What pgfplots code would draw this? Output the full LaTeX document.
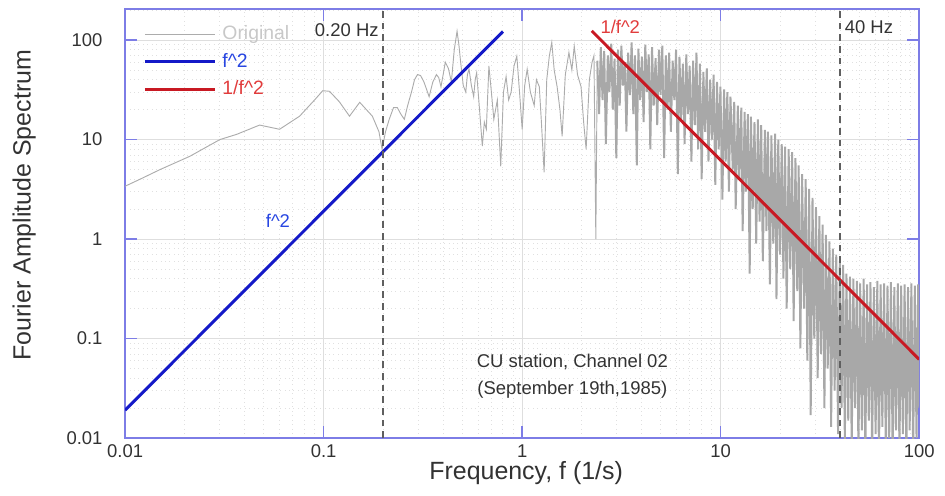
\documentclass[border=0pt]{standalone}
\usepackage{fontspec}
\setmainfont{Liberation Sans}
\usepackage{pgfplots}
\usepackage{pgfplotstable}
\pgfplotsset{compat=1.18}
\definecolor{frameblue}{RGB}{125,125,230}
\definecolor{origgray}{RGB}{172,172,172}
\definecolor{densegray}{RGB}{168,168,168}
\definecolor{legendgray}{RGB}{200,200,200}
\definecolor{fblue}{RGB}{20,25,200}
\definecolor{fred}{RGB}{200,25,35}
\definecolor{tblue}{RGB}{40,70,225}
\definecolor{tred}{RGB}{225,60,60}
\definecolor{ticktext}{RGB}{50,50,50}
\definecolor{dashgray}{RGB}{95,95,95}

\pgfplotstableread{
f A
0.0100 3.4
0.0119 4.0
0.0150 5.0
0.0212 6.8
0.0300 10.0
0.0365 11.3
0.0476 14.0
0.0600 12.7
0.0757 17.2
0.0900 25
0.0990 31
0.107 30.6
0.120 24
0.135 17.2
0.152 23.7
0.176 17.2
0.190 12
0.197 8.0
0.205 12
0.214 16
0.225 21
0.235 21
0.245 18
0.255 16
0.265 22
0.277 30
0.287 40
0.297 45
0.308 44
0.320 38
0.330 32
0.340 27
0.355 38
0.370 45
0.380 42
0.390 34
0.400 45
0.410 60
0.425 52
0.440 38
0.455 80
0.470 123
0.480 90
0.490 60
0.505 35
0.520 30
0.530 45
0.540 51
0.555 35
0.570 27
0.580 40
0.590 47
0.610 20
0.630 8.6
0.645 15
0.660 12.7
0.680 55
0.700 30
0.720 16
0.750 25
0.780 5.4
0.805 30
0.830 43
0.855 25
0.880 30
0.910 55
0.940 69
0.970 30
1.000 12.7
1.030 35
1.060 51
1.100 30
1.150 22
1.180 40
1.220 34
1.250 15
1.290 4.7
1.330 40
1.370 69
1.410 95
1.450 50
1.500 34
1.550 20
1.590 10.8
1.650 45
1.720 75
1.780 50
1.830 87
1.900 45
1.980 34
2.040 15
2.100 8
2.180 40
2.250 60
2.30 70
2.35 1.0
2.39 62
}\spectrumlow

\pgfplotstableread{
f A
2.39 62
2.44 18
2.49 85
2.54 25
2.59 78
2.64 9
2.70 70
2.75 30
2.81 92
2.86 20
2.92 65
2.98 6.5
3.04 80
3.10 22
3.16 88
3.22 35
3.29 60
3.35 12
3.42 75
3.49 28
3.56 95
3.63 18
3.70 70
3.78 5.5
3.85 82
3.93 25
4.01 68
4.09 15
4.17 90
4.25 30
4.34 72
4.42 8
4.51 85
4.60 22
4.70 66
4.79 14
4.89 80
4.98 28
5.08 88
5.19 6.5
5.29 70
5.40 20
5.50 75
5.61 12
5.73 62
5.84 25
5.96 80
6.08 4.5
6.20 68
6.32 16
6.45 58
6.58 9
6.71 72
6.84 18
6.98 55
7.12 6
7.26 62
7.41 14
7.55 75
7.70 8
7.86 58
8.02 4
8.18 48
8.34 12
8.51 52
8.68 6
8.85 40
9.03 10
9.21 45
9.39 3.5
9.58 38
9.77 8
9.97 34
10.2 2.5
10.4 32
10.6 6
10.8 30
11.0 3
11.2 27
11.5 5
11.7 24
11.9 2
12.2 22
12.4 4
12.7 21
12.9 1.2
13.2 19
13.4 3
13.7 18
14.0 0.45
14.2 17
14.5 2
14.8 15
15.1 0.9
15.4 16
15.7 1.5
16.0 14
16.3 0.6
16.7 12.5
17.0 1.2
17.3 12
17.7 0.35
18.0 11
18.4 0.9
18.8 11.5
19.1 0.25
19.5 10
19.9 0.7
20.3 9
20.7 0.4
21.1 8.5
21.5 0.2
22.0 8
22.4 0.5
22.9 7.5
23.3 0.15
23.8 6.5
24.3 0.3
24.7 5.5
25.2 0.08
25.7 4.5
26.3 0.2
26.8 4
27.3 0.06
27.9 3.2
28.4 0.017
29.0 2.6
29.6 0.1
30.2 2.1
30.8 0.04
31.4 1.7
32.0 0.07
32.6 1.4
33.3 0.02
33.9 1.1
34.6 0.05
35.3 0.95
36.0 0.013
36.7 0.8
37.5 0.03
38.2 0.7
39.0 0.011
39.8 0.6
40.6 0.02
41.4 0.55
42.2 0.009
43.0 0.45
43.9 0.015
44.8 0.42
45.7 0.008
46.6 0.4
47.5 0.02
48.5 0.38
49.4 0.007
50.4 0.36
51.4 0.012
52.5 0.4
53.5 0.006
54.6 0.35
55.7 0.015
56.8 0.37
57.9 0.007
59.1 0.33
60.3 0.011
61.5 0.38
62.7 0.006
63.9 0.35
65.2 0.013
66.5 0.36
67.9 0.007
69.2 0.34
70.6 0.01
72.0 0.37
73.5 0.006
74.9 0.33
76.4 0.012
78.0 0.36
79.5 0.007
81.1 0.34
82.7 0.011
84.4 0.35
86.1 0.006
87.8 0.33
89.5 0.012
91.3 0.36
93.2 0.007
95.0 0.34
96.9 0.01
98.8 0.35
100 0.02
}\spectrumhigh

\begin{document}
\begin{tikzpicture}
\begin{axis}[
  xmode=log, ymode=log,
  scale only axis, width=428.5bp, height=231.5bp,
  xmin=0.01, xmax=100, ymin=0.01, ymax=205,
  axis line style={frameblue, line width=0.8bp},
  major tick style={frameblue, line width=0.8bp},
  minor tick style={draw=none},
  major tick length=6.5bp, minor tick length=0pt,
  tick align=inside,
  xtick={0.01,0.1,1,10,100}, xticklabels={0.01,0.1,1,10,100},
  ytick={0.01,0.1,1,10,100}, yticklabels={0.01,0.1,1,10,100},
  minor xtick={0.02,0.03,0.04,0.05,0.06,0.07,0.08,0.09,0.2,0.3,0.4,0.5,0.6,0.7,0.8,0.9,2,3,4,5,6,7,8,9,20,30,40,50,60,70,80,90},
  minor ytick={0.02,0.03,0.04,0.05,0.06,0.07,0.08,0.09,0.2,0.3,0.4,0.5,0.6,0.7,0.8,0.9,2,3,4,5,6,7,8,9,20,30,40,50,60,70,80,90,200},
  grid=both,
  major grid style={draw=black!13, line width=0.5bp},
  minor grid style={draw=black!12, dotted, line width=0.5bp},
  tick label style={font=\fontsize{10}{12}\selectfont, text=ticktext},
  yticklabel style={xshift=-8.7bp},
  xlabel={Frequency, f (1/s)},
  ylabel={Fourier Amplitude Spectrum},
  label style={font=\fontsize{13.5}{16}\selectfont, text=ticktext},
  xlabel style={at={(axis description cs:0.505,-0.0956)}, anchor=base},
  ylabel style={at={(axis description cs:-0.127,0.543)}, anchor=center},
  legend style={at={(axis description cs:0.0227,0.963)}, anchor=north west,
    draw=none, fill=none, inner sep=0pt,
    font=\fontsize{10.5}{12}\selectfont,
    nodes={inner sep=0pt, text height=7.5bp, text depth=2bp},
    row sep=5.5bp,
    /tikz/every odd column/.append style={column sep=3.2bp}},
  legend image code/.code={\draw[#1] (0bp,0bp) -- (37.8bp,0bp);},
  legend cell align=left,
]
\addplot[origgray, line width=0.5bp] table[x=f, y=A] {\spectrumlow};
\addlegendentry{\textcolor{legendgray}{Original}}
\addplot[densegray, line width=1.05bp, forget plot] table[x=f, y=A] {\spectrumhigh};
\addplot[fblue, line width=1.6bp] coordinates {(0.01,0.0191) (0.80,122)};
\addlegendentry{\textcolor{tblue}{f\textasciicircum 2}}
\addplot[fred, line width=1.6bp] coordinates {(2.24,124) (100,0.0618)};
\addlegendentry{\textcolor{tred}{1/f\textasciicircum 2}}
\addplot[dashgray, line width=1.1bp, dash pattern=on 3.6bp off 2.7bp, forget plot] coordinates {(0.2,0.01) (0.2,205)};
\addplot[dashgray, line width=1.1bp, dash pattern=on 3.6bp off 2.7bp, forget plot] coordinates {(40,0.01) (40,205)};
\node[anchor=east, inner sep=0pt, font=\fontsize{10}{12}\selectfont, text=ticktext] at (axis cs:0.19,126) {0.20 Hz};
\node[anchor=west, inner sep=0pt, font=\fontsize{10}{12}\selectfont, text=ticktext] at (axis cs:42,136) {40 Hz};
\node[inner sep=0pt, font=\fontsize{10}{12}\selectfont, text=tblue] at (axis cs:0.0589,1.52) {f\textasciicircum 2};
\node[inner sep=0pt, font=\fontsize{10}{12}\selectfont, text=tred] at (axis cs:3.12,136) {1/f\textasciicircum 2};
\node[inner sep=0pt, align=center, font=\fontsize{10}{15}\selectfont, text=ticktext] at (axis cs:1.79,0.042) {CU station, Channel 02\\(September 19th,1985)};
\coordinate (SW) at (rel axis cs:0,0);
\coordinate (NE) at (rel axis cs:1,1);
\end{axis}
\pgfresetboundingbox
\path ([xshift=-67.5bp,yshift=-30.8bp]SW) rectangle ([xshift=13.9bp,yshift=4.9bp]NE);
\end{tikzpicture}
\end{document}
